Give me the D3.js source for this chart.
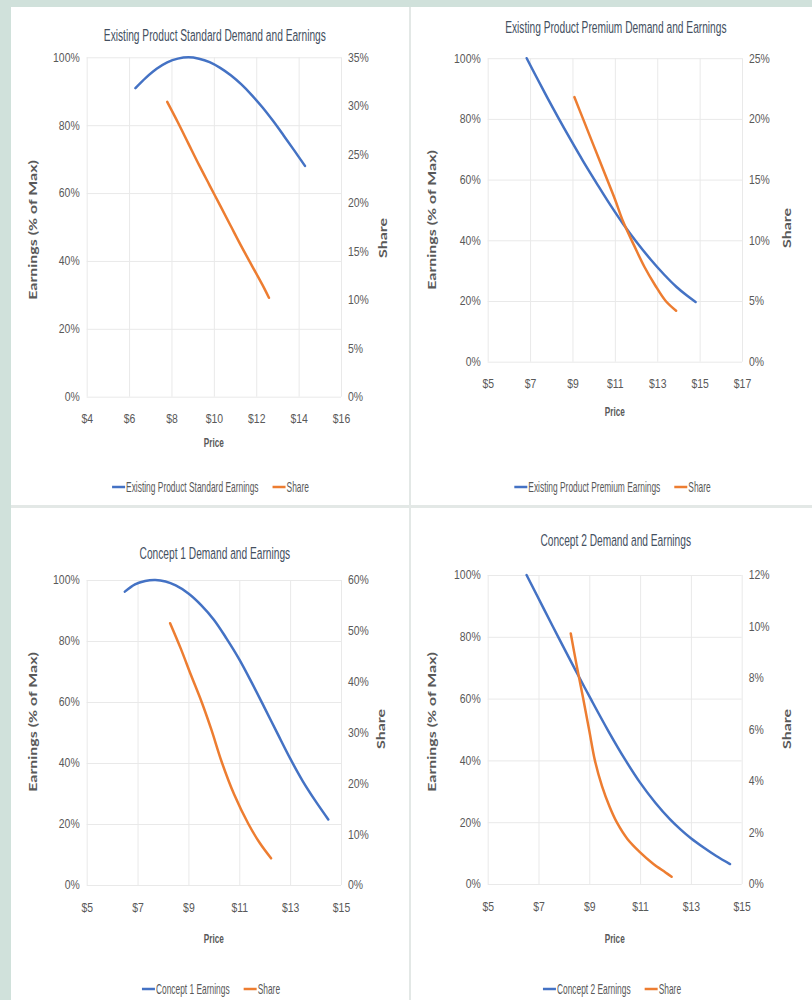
<!DOCTYPE html>
<html>
<head>
<meta charset="utf-8">
<script src="https://cdn.jsdelivr.net/npm/d3@7"></script>
<style>
  body { margin: 0; background: #d0e1db; }
  svg { display: block; }
</style>
</head>
<body>
<div id="charts"></div>
<script>
// chart titles and series names
var titles = ["Existing Product Standard Demand and Earnings",
              "Existing Product Premium Demand and Earnings",
              "Concept 1 Demand and Earnings",
              "Concept 2 Demand and Earnings"];
var earningsNames = ["Existing Product Standard Earnings",
                     "Existing Product Premium Earnings",
                     "Concept 1 Earnings",
                     "Concept 2 Earnings"];

// price axis range and share (right) axis range per chart
var priceDomains = [[4, 16], [5, 17], [5, 15], [5, 15]];
var shareMax = [0.35, 0.25, 0.60, 0.12];
var shareStep = [0.05, 0.05, 0.10, 0.02];
var earningsTicks = [0, 0.2, 0.4, 0.6, 0.8, 1];

// Existing Product Standard
var stdEarnPrice = [6.3, 6.8, 7.3, 7.8, 8.3, 8.8, 9.3, 9.8, 10.3, 10.8, 11.3, 11.8, 12.3, 12.8, 13.3, 13.8, 14.3];
var stdEarn = [0.909, 0.940, 0.966, 0.985, 0.996, 1.000, 0.996, 0.986, 0.969, 0.947, 0.920, 0.888, 0.852, 0.812, 0.769, 0.725, 0.680];
var stdSharePrice = [7.8, 8.3, 8.8, 9.3, 9.8, 10.3, 10.8, 11.3, 11.8, 12.3, 12.6];
var stdShare = [0.304, 0.283, 0.261, 0.239, 0.218, 0.197, 0.176, 0.155, 0.135, 0.115, 0.102];

// Existing Product Premium
var premEarnPrice = [6.84, 7.3, 7.8, 8.36, 8.9, 9.5, 10.15, 10.8, 11.4, 12.05, 12.7, 13.3, 13.9, 14.4, 14.81];
var premEarn = [1.000, 0.938, 0.872, 0.800, 0.733, 0.661, 0.587, 0.515, 0.453, 0.392, 0.336, 0.289, 0.247, 0.218, 0.197];
var premSharePrice = [9.09, 9.5, 10.0, 10.5, 11.0, 11.4, 11.9, 12.4, 12.9, 13.4, 13.89];
var premShare = [0.218, 0.200, 0.178, 0.156, 0.134, 0.115, 0.096, 0.078, 0.063, 0.050, 0.042];

// Concept 1
var c1EarnPrice = [6.5, 6.9, 7.3, 7.7, 8.1, 8.5, 9.0, 9.5, 10.0, 10.5, 11.0, 11.5, 12.0, 12.5, 13.0, 13.5, 14.0, 14.5];
var c1Earn = [0.962, 0.986, 0.997, 1.000, 0.995, 0.982, 0.956, 0.918, 0.870, 0.808, 0.740, 0.662, 0.580, 0.497, 0.415, 0.340, 0.275, 0.215];
var c1SharePrice = [8.28, 8.7, 9.1, 9.52, 9.9, 10.31, 10.8, 11.36, 11.8, 12.25];
var c1Share = [0.515, 0.465, 0.413, 0.360, 0.306, 0.242, 0.178, 0.120, 0.083, 0.0525];

// Concept 2
var c2EarnPrice = [6.53, 7.2, 7.81, 8.45, 9.09, 9.75, 10.4, 11.0, 11.6, 12.18, 12.6, 13.0, 13.5, 14.0, 14.54];
var c2Earn = [1.000, 0.892, 0.794, 0.693, 0.594, 0.495, 0.404, 0.328, 0.263, 0.209, 0.176, 0.148, 0.118, 0.0905, 0.0646];
var c2SharePrice = [8.27, 8.5, 8.76, 9.0, 9.22, 9.5, 9.8, 10.08, 10.5, 11.0, 11.5, 12.0, 12.24];
var c2Share = [0.0973, 0.085, 0.072, 0.0595, 0.048, 0.038, 0.030, 0.024, 0.0175, 0.0123, 0.008, 0.0045, 0.0028];

var earnSeries = [[stdEarnPrice, stdEarn], [premEarnPrice, premEarn], [c1EarnPrice, c1Earn], [c2EarnPrice, c2Earn]];
var shareSeries = [[stdSharePrice, stdShare], [premSharePrice, premShare], [c1SharePrice, c1Share], [c2SharePrice, c2Share]];

// where each chart sits on the page
var layout = [
  {x: 11,  y: 7,   w: 398, h: 498, l: 86.7,  r: 341,   t: 57.3, b: 396.7, titleY: 35,  priceY: 442, legendY: 487, legendX: 210.5, lTitle: [33, 230],  rTitle: [383, 238]},
  {x: 411, y: 7,   w: 401, h: 498, l: 487.7, r: 742,   t: 58.2, b: 361.7, titleY: 27,  priceY: 411, legendY: 487, legendX: 612.5, lTitle: [432, 220], rTitle: [787, 228]},
  {x: 11,  y: 508, w: 398, h: 492, l: 86.7,  r: 341,   t: 580,  b: 885,   titleY: 553, priceY: 938, legendY: 989, legendX: 211,   lTitle: [33, 722],  rTitle: [381, 729]},
  {x: 411, y: 508, w: 401, h: 492, l: 487.7, r: 741.7, t: 575,  b: 884,   titleY: 540, priceY: 938, legendY: 989, legendX: 612,   lTitle: [432, 722], rTitle: [787, 729]}
];

var sans = '"Liberation Sans", Arial, sans-serif';
var blue = "#4472c4", orange = "#ed7d31";
var pct = d3.format(".0%");
var tickSqueeze = 0.87;

var svg = d3.select("#charts").append("svg")
    .attr("width", 812)
    .attr("height", 1000);

svg.append("rect")
    .attr("x", 11).attr("y", 7)
    .attr("width", 801).attr("height", 993)
    .attr("fill", "#e3e8e6");

// text squeezed (k < 1) or stretched (k > 1) along its own direction
function label(g, x, y, str, rot, k, font, size, weight, anchor, color) {
  return g.append("text")
    .attr("transform", "translate(" + x + "," + y + ") rotate(" + rot + ") scale(" + k + ",1)")
    .attr("dy", "0.35em")
    .attr("text-anchor", anchor)
    .attr("fill", color)
    .style("font-family", font).style("font-size", size + "px").style("font-weight", weight)
    .text(str);
}

layout.forEach(function(p, i) {
  var g = svg.append("g");

  g.append("rect")
    .attr("x", p.x).attr("y", p.y)
    .attr("width", p.w).attr("height", p.h)
    .attr("fill", "#fff");

  var x = d3.scaleLinear().domain(priceDomains[i]).range([p.l, p.r]);
  var yL = d3.scaleLinear().domain([0, 1]).range([p.b, p.t]);
  var yR = d3.scaleLinear().domain([0, shareMax[i]]).range([p.b, p.t]);

  var priceTicks = d3.range(priceDomains[i][0], priceDomains[i][1] + 0.5, 2);
  var shareTicks = d3.range(0, shareMax[i] + 1e-6, shareStep[i]);

  // x axis with vertical gridlines
  var gx = g.append("g")
      .attr("transform", "translate(0," + p.b + ")")
      .call(d3.axisBottom(x).tickValues(priceTicks).tickSize(-(p.b - p.t)).tickSizeOuter(0)
            .tickPadding(18).tickFormat(function(d) { return "$" + d; }));

  // left axis with horizontal gridlines
  var gl = g.append("g")
      .attr("transform", "translate(" + p.l + ",0)")
      .call(d3.axisLeft(yL).tickValues(earningsTicks).tickSize(-(p.r - p.l)).tickSizeOuter(0)
            .tickPadding(7 / tickSqueeze).tickFormat(pct));

  // right axis, labels only
  var gr = g.append("g")
      .attr("transform", "translate(" + p.r + ",0)")
      .call(d3.axisRight(yR).tickValues(shareTicks).tickSize(0).tickPadding(7 / tickSqueeze).tickFormat(pct));

  [gx, gl, gr].forEach(function(a) {
    a.select(".domain").remove();
    a.selectAll(".tick line").attr("stroke", "#e9e9e9");
    a.selectAll("text")
      .attr("fill", "#595959")
      .attr("transform", "scale(" + tickSqueeze + ",1)")
      .style("font-family", sans).style("font-size", "12px");
  });

  // curves
  var line = function(ys) {
    return d3.line()
      .x(function(d) { return x(d[0]); })
      .y(function(d) { return ys(d[1]); })
      .curve(d3.curveCatmullRom.alpha(0.5));
  };
  var e = d3.zip(earnSeries[i][0], earnSeries[i][1]);
  var s = d3.zip(shareSeries[i][0], shareSeries[i][1]);

  g.append("path").datum(e)
    .attr("d", line(yL))
    .attr("fill", "none").attr("stroke", blue).attr("stroke-width", 2.5).attr("stroke-linecap", "round");
  g.append("path").datum(s)
    .attr("d", line(yR))
    .attr("fill", "none").attr("stroke", orange).attr("stroke-width", 2.5).attr("stroke-linecap", "round");

  // title
  label(g, (p.l + p.r) / 2 + 1, p.titleY, titles[i], 0, 0.60, sans, 17, "normal", "middle", "#44505f");

  // axis titles
  label(g, (p.l + p.r) / 2, p.priceY, "Price", 0, 0.63, sans, 13, "bold", "middle", "#595959");
  label(g, p.lTitle[0], p.lTitle[1], "Earnings (% of Max)", -90, 1.45, "Lato, sans-serif", 11, "bold", "middle", "#595959");
  label(g, p.rTitle[0], p.rTitle[1], "Share", -90, 1.45, "Lato, sans-serif", 11, "bold", "middle", "#595959");

  // legend
  var lg = g.append("g");
  var items = [{name: earningsNames[i], color: blue}, {name: "Share", color: orange}];
  var cx = 0, k = 0.6;
  items.forEach(function(it) {
    lg.append("line")
      .attr("x1", cx).attr("x2", cx + 13)
      .attr("y1", 0).attr("y2", 0)
      .attr("stroke", it.color).attr("stroke-width", 2.5);
    var t = label(lg, cx + 14, 0, it.name, 0, k, sans, 14, "normal", "start", "#595959");
    cx += 14 + t.node().getComputedTextLength() * k + 14;
  });
  cx -= 14;
  lg.attr("transform", "translate(" + (p.legendX - cx / 2) + "," + p.legendY + ")");
});
</script>
</body>
</html>
